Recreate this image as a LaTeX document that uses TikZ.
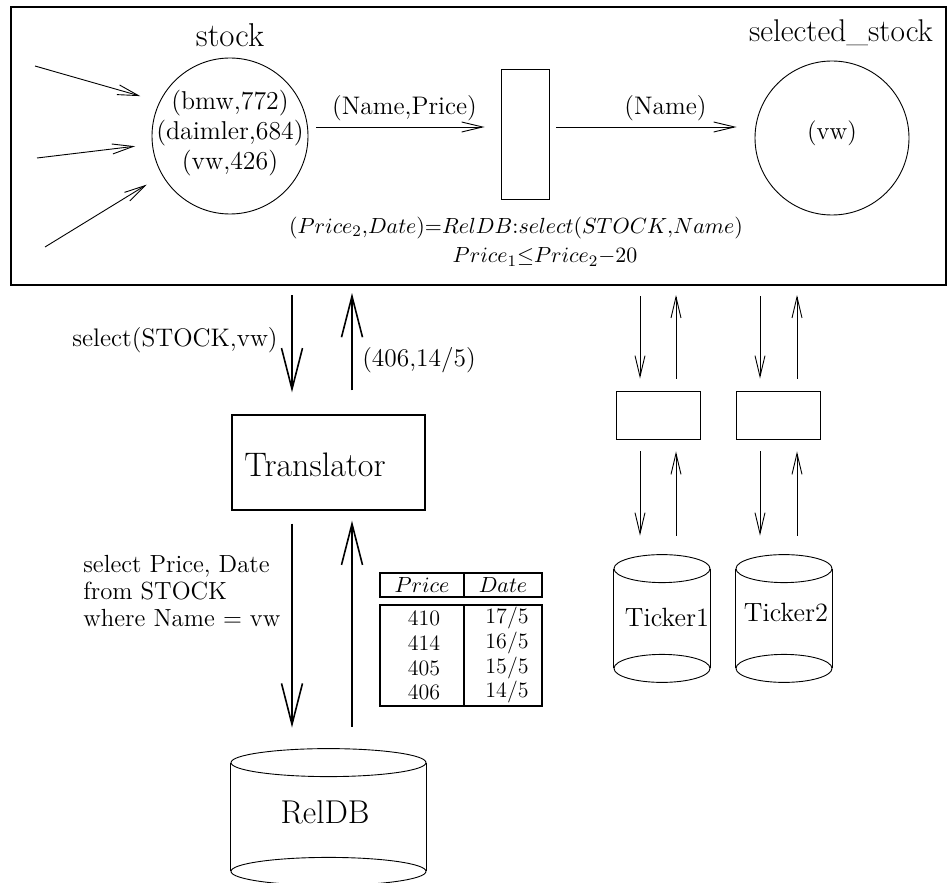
\documentclass[tikz,border=0pt]{standalone}
\usetikzlibrary{arrows.meta,calc}
\newcommand{\drawcyl}[2]{%
  \draw[thinline] ($(#1.north)+(0,14)$) ellipse [x radius=#2, y radius=7pt];
  \draw[thinline] ($(#1.south)+(0,-14)$) ellipse [x radius=#2, y radius=7pt];
  \draw[thinline] ($(#1.north west)+(0,14)$) -- ($(#1.south west)+(0,-14)$);
  \draw[thinline] ($(#1.north east)+(0,14)$) -- ($(#1.south east)+(0,-14)$);}
\begin{document}
\begin{tikzpicture}[x=0.5pt,y=-0.5pt,
  thinline/.style={line width=0.45pt},
  thinarr/.style={line width=0.45pt,-{Straight Barb[length=10.5pt,width=5pt]}},
  bigarr/.style={line width=0.8pt,-{Straight Barb[length=20.5pt,width=10.5pt]}},
  bigfont/.style={font=\fontsize{16.5}{19}\selectfont},
  midfont/.style={font=\fontsize{12.7}{15}\selectfont},
  tabfont/.style={font=\fontsize{11}{13}\selectfont},
  plain/.style={inner sep=0pt}]
\useasboundingbox (0,0) rectangle (948,883);

% ---- outer frame ----
\node[draw, line width=1pt, minimum width=467.5pt, minimum height=139pt, inner sep=0] (outer) at (478.5,146) {};

% ---- stock place ----
\node[draw, thinline, circle, minimum size=78pt, inner sep=0] (stock) at (230,136) {};
\node[plain, align=center, font=\fontsize{12.9}{15}\selectfont] (stocktxt) at (230,133) {(bmw,772)\\(daimler,684)\\(vw,426)};
\node[plain, bigfont] (stocklbl) at (230,35) {stock};

% ---- transition ----
\node[draw, thinline, minimum width=24pt, minimum height=65pt, inner sep=0] (filter) at (525,134) {};

% ---- selected_stock ----
\node[draw, thinline, circle, minimum size=77pt, inner sep=0] (sel) at (832,138) {};
\node[plain, font=\fontsize{12.5}{14}\selectfont] (selvw) at (832,133) {(vw)};
\node[plain, font=\fontsize{15.7}{18}\selectfont] (sellbl) at (841,33) {selected\_stock};

% ---- incoming arrows ----
\coordinate (in1) at (35,66);
\coordinate (in2) at (37,158);
\coordinate (in3) at (45,247);
\draw[thinarr, shorten >=10pt] (in1) -- (stock.154);
\draw[thinarr, shorten >=8.5pt] (in2) -- (stock.186);
\draw[thinarr, shorten >=9pt] (in3) -- (stock.210);

% ---- horizontal arrows ----
\coordinate (ay) at (0,127);
\draw[thinarr, shorten <=4pt, shorten >=8pt] (stock.east |- ay) -- node[midway, yshift=9.5pt, midfont] (np) {(Name,Price)} (filter.west |- ay);
\draw[thinarr, shorten <=3.5pt, shorten >=9pt] (filter.east |- ay) -- node[midway, xshift=6.75pt, yshift=9.5pt, midfont] (nm) {(Name)} (sel.west |- ay);

% ---- formula ----
\node[plain, font=\fontsize{10.9}{13}\selectfont] (f1) at (516,228) {$(Price_2{,}Date){=}RelDB{:}select(STOCK{,}Name)$};
\node[plain, font=\fontsize{10.8}{13}\selectfont] (f2) at (545,257) {$Price_1{\leq}Price_2{-}20$};

% ---- translator ----
\node[draw, line width=0.65pt, minimum width=96.5pt, minimum height=47.5pt, inner sep=0,
      label={[font=\fontsize{17}{20}\selectfont, xshift=-6.75pt, yshift=-1pt]center:Translator}] (trans) at (328.5,462.5) {};

\coordinate (c1) at (292,0);
\coordinate (c2) at (352,0);
\draw[bigarr, shorten <=4.5pt, shorten >=11pt] (outer.south -| c1) -- (trans.north -| c1);
\draw[bigarr, shorten <=12pt, shorten >=3.5pt] (trans.north -| c2) -- (outer.south -| c2);
\node[plain, midfont] (q1) at (175,340) {select(STOCK,vw)};
\node[plain, midfont] (r1) at (419,360) {(406,14/5)};

% ---- RelDB ----
\node[minimum width=97.5pt, minimum height=68pt, inner sep=0] (db) at (328.5,817) {};
\drawcyl{db}{48.75pt}
\node[plain, bigfont] (dbtxt) at (325,812) {RelDB};

\draw[bigarr, shorten <=6.5pt, shorten >=10.5pt] (trans.south -| c1) -- (db.north -| c1);
\draw[bigarr, shorten <=11pt, shorten >=5pt] (db.north -| c2) -- (trans.south -| c2);
\node[plain, anchor=west, align=left, font=\fontsize{12.4}{13.3}\selectfont] (q2) at (83,591) {select Price, Date\\from STOCK\\where Name = vw};

% ---- table ----
\node[draw, line width=0.75pt, minimum width=81pt, minimum height=12pt, inner sep=0] (thead) at (461,585) {};
\node[draw, line width=0.75pt, minimum width=81pt, minimum height=50.5pt, inner sep=0] (tbody) at (461,655.5) {};
\coordinate (tc) at (464,0);
\draw[line width=0.75pt] (thead.north -| tc) -- (thead.south -| tc);
\draw[line width=0.75pt] (tbody.north -| tc) -- (tbody.south -| tc);
\node[plain, tabfont] (h1) at (422,585) {$Price$};
\node[plain, tabfont] (h2) at (503,585) {$Date$};
\node[plain, tabfont] (a1) at (424,618) {410};
\node[plain, tabfont] (b1) at (507,618) {17/5};
\node[plain, tabfont] (a2) at (424,643) {414};
\node[plain, tabfont] (b2) at (507,643) {16/5};
\node[plain, tabfont] (a3) at (424,668) {405};
\node[plain, tabfont] (b3) at (507,668) {15/5};
\node[plain, tabfont] (a4) at (424,692) {406};
\node[plain, tabfont] (b4) at (507,692) {14/5};

% ---- ticker adapters ----
\node[draw, thinline, minimum width=42pt, minimum height=24pt, inner sep=0] (ad1) at (658,415) {};
\node[draw, thinline, minimum width=42pt, minimum height=24pt, inner sep=0] (ad2) at (778,415) {};
\node[minimum width=48pt, minimum height=63.5pt, inner sep=0] (tk1) at (662,618.5) {};
\node[minimum width=48pt, minimum height=63.5pt, inner sep=0] (tk2) at (784,618.5) {};
\drawcyl{tk1}{24pt}
\drawcyl{tk2}{24pt}
\node[plain, font=\fontsize{13.2}{15}\selectfont] (tk1txt) at (667,617) {Ticker1};
\node[plain, font=\fontsize{13.2}{15}\selectfont] (tk2txt) at (786,612) {Ticker2};

\coordinate (t1d) at (640,0);
\coordinate (t1u) at (676,0);
\coordinate (t2d) at (760,0);
\coordinate (t2u) at (797,0);
\foreach \d/\u/\a/\t in {t1d/t1u/ad1/tk1, t2d/t2u/ad2/tk2}{
  \draw[thinarr, shorten <=5pt, shorten >=6pt] (outer.south -| \d) -- (\a.north -| \d);
  \draw[thinarr, shorten <=6pt, shorten >=4.5pt] (\a.north -| \u) -- (outer.south -| \u);
  \draw[thinarr, shorten <=6pt, shorten >=9.5pt] (\a.south -| \d) -- (\t.north -| \d);
  \draw[thinarr, shorten <=9.5pt, shorten >=6pt] (\t.north -| \u) -- (\a.south -| \u);
}
\end{tikzpicture}
\end{document}
